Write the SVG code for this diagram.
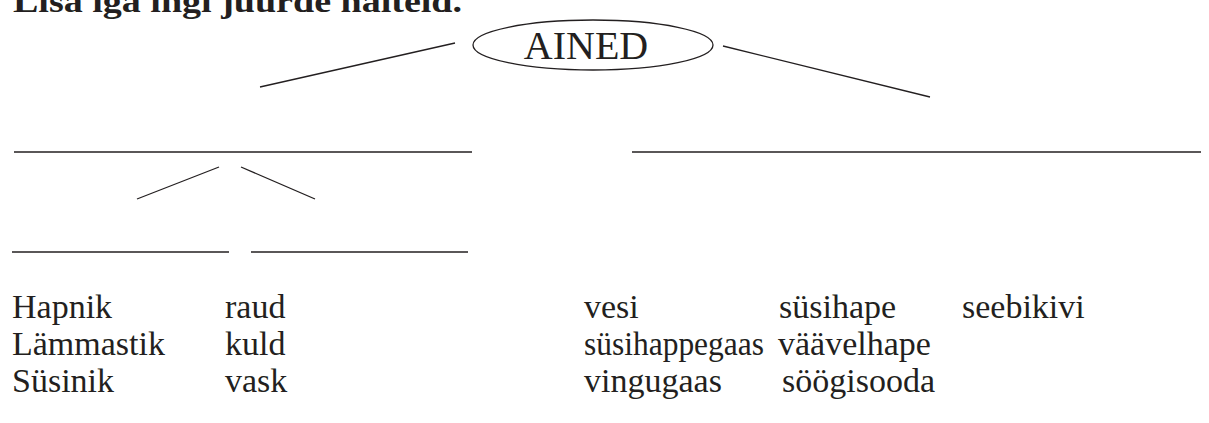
<svg xmlns="http://www.w3.org/2000/svg" width="1209" height="423" viewBox="0 0 1209 423">
<style>
.t{font-family:"Liberation Serif","Times New Roman",serif;font-size:34px;fill:#231f20}
.a{font-family:"Liberation Serif","Times New Roman",serif;font-size:40px;fill:#231f20}
.h{font-family:"Liberation Serif","Times New Roman",serif;font-size:32px;font-weight:bold;fill:#231f20}
.ln{stroke:#231f20;stroke-width:1.3;fill:none}
.rule{stroke:#231f20;stroke-width:1.7;fill:none}
</style>
<rect width="1209" height="423" fill="#fff"/>
<text class="h" x="13" y="12" textLength="449" lengthAdjust="spacingAndGlyphs">Lisa iga ingi juurde näiteid.</text>
<g id="ained">
<ellipse cx="593" cy="45" rx="120" ry="25" class="ln"/>
<text class="a" x="586" y="59" text-anchor="middle">AINED</text>
</g>
<g id="slot-left"><line x1="14" y1="152" x2="472" y2="152" class="rule"/></g>
<g id="slot-right"><line x1="632" y1="152" x2="1201" y2="152" class="rule"/></g>
<g id="slot-ll"><line x1="12" y1="252" x2="229" y2="252" class="rule"/></g>
<g id="slot-lr"><line x1="251" y1="252" x2="468" y2="252" class="rule"/></g>
<g id="connectors">
<line x1="260" y1="87" x2="455" y2="43" class="ln"/>
<line x1="723" y1="46" x2="930" y2="97" class="ln"/>
<line x1="137" y1="199" x2="219" y2="167" class="ln"/>
<line x1="241" y1="167" x2="315" y2="199" class="ln"/>
</g>
<g id="words" class="t">
<text x="12" y="318">Hapnik</text>
<text x="225" y="318">raud</text>
<text x="584" y="318">vesi</text>
<text x="779" y="318">süsihape</text>
<text x="962" y="318">seebikivi</text>
<text x="12" y="355">Lämmastik</text>
<text x="225" y="355">kuld</text>
<text x="584" y="355" textLength="180" lengthAdjust="spacingAndGlyphs">süsihappegaas</text>
<text x="778" y="355">väävelhape</text>
<text x="12" y="392">Süsinik</text>
<text x="225" y="392">vask</text>
<text x="584" y="392">vingugaas</text>
<text x="782" y="392">söögisooda</text>
</g>
</svg>
